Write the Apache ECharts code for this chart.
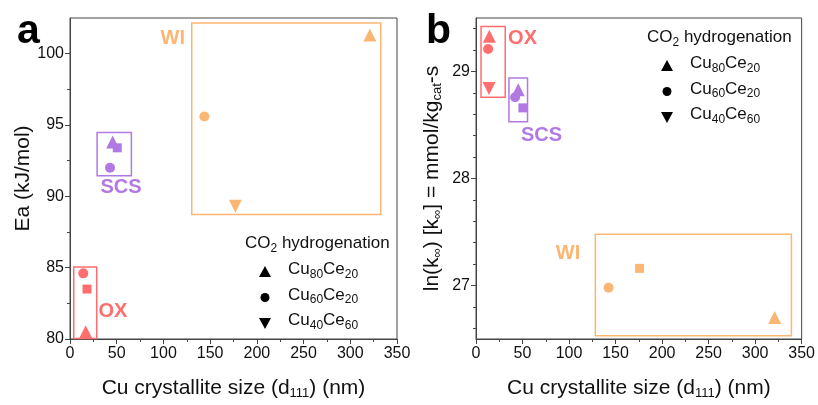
<!DOCTYPE html>
<html>
<head>
<meta charset="utf-8">
<script src="https://cdn.jsdelivr.net/npm/echarts@6/dist/echarts.min.js"></script>
<style>
    html, body { margin: 0; padding: 0; background: #fff; }
    #main { width: 818px; height: 405px; }
</style>
</head>
<body>
<div id="main"></div>
<script>
// 合成方法
var methods = ['OX', 'SCS', 'WI'];
var methodColors = ['#ff6e6e', '#b278e3', '#fcb673'];

// 图 a: Ea (kJ/mol)
var sizeA_OX = [16.8, 14.2, 18.2], eaA_OX = [80.5, 84.6, 83.5], shapeA_OX = ['up', 'circle', 'square'];
var sizeA_SCS = [45.7, 42.8, 50.6], eaA_SCS = [93.8, 92.0, 93.4], shapeA_SCS = ['up', 'circle', 'square'];
var sizeA_WI = [321, 143.8, 177], eaA_WI = [101.3, 95.6, 89.3], shapeA_WI = ['up', 'circle', 'down'];

// 图 b: ln(k∞)
var sizeB_OX = [14.3, 13, 14], lnkB_OX = [29.33, 29.21, 28.84], shapeB_OX = ['up', 'circle', 'down'];
var sizeB_SCS = [45.4, 42, 50.4], lnkB_SCS = [28.83, 28.76, 28.66], shapeB_SCS = ['up', 'circle', 'square'];
var sizeB_WI = [321, 142.5, 175.8], lnkB_WI = [26.70, 26.98, 27.16], shapeB_WI = ['up', 'circle', 'square'];

// 方框 [x0, y0, x1, y1]
var boxA = [[4, 80.03, 28.6, 85.04], [29, 91.45, 65.7, 94.48], [130.3, 88.73, 332.6, 102.15]];
var boxB = [[5.4, 28.76, 31.4, 29.42], [35.4, 28.53, 55.4, 28.94], [128.3, 26.53, 339, 27.48]];
// 标签位置
var labelA = [[46, 81.9], [54.6, 90.6], [110, 101.05]];
var labelB = [[50, 29.31], [70.4, 28.4], [98.9, 27.3]];

// 刻度
var xTicks = [0, 350, 50];
var yMajorA = [80, 85, 90, 95, 100], yMinorA = [82.5, 87.5, 92.5, 97.5];
var yMajorB = [27, 28, 29];
var yMinorB = [26.6, 26.8, 27.2, 27.4, 27.6, 27.8, 28.2, 28.4, 28.6, 28.8, 29.2, 29.4];

var FONT = 'Liberation Sans, Arial, sans-serif';
var AXIS_COLOR = '#444';
var NAME_SIZE = 21;

var symbolMap = {
    up: { symbol: 'triangle', size: 13, rotate: 0 },
    down: { symbol: 'triangle', size: 13, rotate: 180 },
    circle: { symbol: 'circle', size: 10, rotate: 0 },
    square: { symbol: 'rect', size: 9, rotate: 0 }
};

function points(xs, ys, shapes) {
    return xs.map(function(x, i) {
        var s = symbolMap[shapes[i]];
        return { value: [x, ys[i]], symbol: s.symbol, symbolSize: s.size, symbolRotate: s.rotate };
    });
}

function methodSeries(idx, gridIdx, data, box, lab) {
    var c = methodColors[idx];
    return {
        type: 'scatter',
        name: methods[idx],
        xAxisIndex: gridIdx,
        yAxisIndex: gridIdx * 2,
        data: data,
        itemStyle: { color: c, opacity: 1 },
        z: 5,
        markArea: {
            silent: true,
            itemStyle: { color: 'rgba(0,0,0,0)', borderColor: c, borderWidth: 1.5 },
            data: [[{ coord: [box[0], box[1]] }, { coord: [box[2], box[3]] }]]
        },
        markPoint: {
            silent: true,
            symbol: 'circle',
            symbolSize: 1,
            itemStyle: { color: 'rgba(0,0,0,0)' },
            label: { show: true, position: 'inside', color: c, fontSize: 20, fontWeight: 'bold', fontFamily: FONT, formatter: methods[idx] },
            data: [{ coord: lab }]
        }
    };
}

var subRich = { s: { fontSize: 13, padding: [10, 0, 0, 0], fontFamily: FONT, color: '#111' } };

function xAxisCfg(gridIdx) {
    return {
        type: 'value', gridIndex: gridIdx,
        min: xTicks[0], max: xTicks[1], interval: xTicks[2],
        name: 'Cu crystallite size (d{s|111}) (nm)',
        nameLocation: 'middle', nameGap: 38,
        nameTextStyle: { fontSize: NAME_SIZE, color: '#111', fontFamily: FONT, rich: subRich },
        axisLine: { show: true, lineStyle: { color: AXIS_COLOR, width: 1 } },
        axisTick: { show: true, length: 5, lineStyle: { color: AXIS_COLOR } },
        minorTick: { show: true, splitNumber: 2, length: 3, lineStyle: { color: AXIS_COLOR } },
        axisLabel: { fontSize: 16, color: '#111', fontFamily: FONT, margin: 7 },
        splitLine: { show: false }
    };
}

function yMain(gridIdx, min, max, majors, nameCfg) {
    return Object.assign({
        type: 'value', gridIndex: gridIdx, min: min, max: max,
        nameLocation: 'middle',
        axisLine: { show: true, lineStyle: { color: AXIS_COLOR, width: 1 } },
        axisTick: { show: true, length: 5, customValues: majors, lineStyle: { color: AXIS_COLOR } },
        axisLabel: { fontSize: 16, color: '#111', fontFamily: FONT, margin: 6, customValues: majors },
        splitLine: { show: false }
    }, nameCfg);
}

function yMinor(gridIdx, min, max, minors) {
    return {
        type: 'value', gridIndex: gridIdx, min: min, max: max, position: 'left',
        axisLine: { show: false },
        axisTick: { show: true, length: 3, customValues: minors, lineStyle: { color: AXIS_COLOR } },
        axisLabel: { show: false },
        splitLine: { show: false }
    };
}

function legendGraphic(x, y) {
    var items = [
        { shape: 'up', text: 'Cu{s|80}Ce{s|20}' },
        { shape: 'circle', text: 'Cu{s|60}Ce{s|20}' },
        { shape: 'down', text: 'Cu{s|40}Ce{s|60}' }
    ];
    var rich = { s: { fontSize: 12, padding: [10, 0, 0, 0], fontFamily: FONT, fill: '#111' } };
    var els = [{
        type: 'text', left: x, top: y - 12,
        style: { text: 'CO{s|2} hydrogenation', fontSize: 17, fontFamily: FONT, fill: '#111', rich: rich }
    }];
    items.forEach(function(it, i) {
        var cy = y + 25 + i * 25.5;
        var r = 6;
        if (it.shape === 'circle') {
            els.push({ type: 'circle', shape: { cx: x + 20, cy: cy, r: 4.5 }, style: { fill: '#000' } });
        } else if (it.shape === 'up') {
            els.push({ type: 'polygon', shape: { points: [[x + 20, cy - r], [x + 26, cy + 5], [x + 14, cy + 5]] }, style: { fill: '#000' } });
        } else {
            els.push({ type: 'polygon', shape: { points: [[x + 20, cy + r], [x + 26, cy - 5], [x + 14, cy - 5]] }, style: { fill: '#000' } });
        }
        els.push({
            type: 'text', left: x + 43, top: cy - 11,
            style: { text: it.text, fontSize: 17, fontFamily: FONT, fill: '#111', rich: rich }
        });
    });
    return els;
}

var myChart = echarts.init(document.getElementById('main'));

var option = {
    animation: false,
    backgroundColor: '#fff',
    grid: [
        { left: 70, right: 421, top: 18, bottom: 57, show: true, borderColor: AXIS_COLOR, borderWidth: 1, backgroundColor: 'rgba(0,0,0,0)' },
        { left: 476, right: 15, top: 18, bottom: 57, show: true, borderColor: AXIS_COLOR, borderWidth: 1, backgroundColor: 'rgba(0,0,0,0)' }
    ],
    xAxis: [xAxisCfg(0), xAxisCfg(1)],
    yAxis: [
        yMain(0, 80, 102.5, yMajorA, {
            name: 'Ea (kJ/mol)', nameGap: 36,
            nameTextStyle: { fontSize: NAME_SIZE, color: '#111', fontFamily: FONT }
        }),
        yMinor(0, 80, 102.5, yMinorA),
        yMain(1, 26.5, 29.5, yMajorB, {
            name: 'ln(k{s|∞}) [k{s|∞}] = mmol/kg{s|cat}-s', nameGap: 32,
            nameTextStyle: { fontSize: NAME_SIZE, color: '#111', fontFamily: FONT, rich: subRich }
        }),
        yMinor(1, 26.5, 29.5, yMinorB)
    ],
    series: [
        methodSeries(0, 0, points(sizeA_OX, eaA_OX, shapeA_OX), boxA[0], labelA[0]),
        methodSeries(1, 0, points(sizeA_SCS, eaA_SCS, shapeA_SCS), boxA[1], labelA[1]),
        methodSeries(2, 0, points(sizeA_WI, eaA_WI, shapeA_WI), boxA[2], labelA[2]),
        methodSeries(0, 1, points(sizeB_OX, lnkB_OX, shapeB_OX), boxB[0], labelB[0]),
        methodSeries(1, 1, points(sizeB_SCS, lnkB_SCS, shapeB_SCS), boxB[1], labelB[1]),
        methodSeries(2, 1, points(sizeB_WI, lnkB_WI, shapeB_WI), boxB[2], labelB[2])
    ],
    graphic: [
        { type: 'text', left: 17, top: 11, style: { text: 'a', fontSize: 41, fontWeight: 'bold', fontFamily: FONT, fill: '#000' } },
        { type: 'text', left: 426, top: 11, style: { text: 'b', fontSize: 41, fontWeight: 'bold', fontFamily: FONT, fill: '#000' } }
    ].concat(legendGraphic(245, 247), legendGraphic(647, 41))
};

myChart.setOption(option);
</script>
</body>
</html>
